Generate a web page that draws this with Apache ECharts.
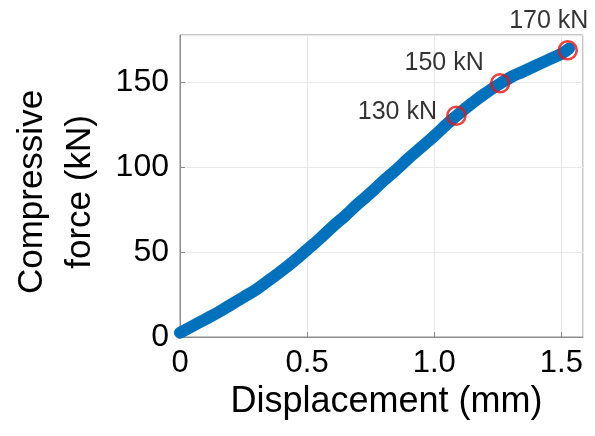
<!DOCTYPE html>
<html>
<head>
<meta charset="utf-8">
<script src="https://cdn.jsdelivr.net/npm/echarts@6/dist/echarts.min.js"></script>
<style>
  html, body { margin: 0; padding: 0; background: #fff; }
  #chart { width: 595px; height: 436px; }
</style>
</head>
<body>
<div id="chart"></div>
<script>
// displacement (mm) and compressive force (kN)
const displacement = [0, 0.05, 0.10, 0.15, 0.20, 0.25, 0.30, 0.35, 0.40, 0.45, 0.50, 0.55, 0.60, 0.65, 0.70, 0.75,
  0.80, 0.85, 0.90, 0.95, 1.00, 1.05, 1.10, 1.15, 1.20, 1.25, 1.30, 1.35, 1.40, 1.45, 1.50, 1.53]
const force = [2.5, 6.5, 10.5, 14.5, 19, 23.5, 28, 33.5, 39, 45, 51.5, 58, 65, 71.5, 78.5, 85,
  92, 98.5, 105.5, 112, 118.5, 125.5, 132, 138, 143.5, 148.5, 153, 156.5, 160, 163.5, 167, 170]

// highlighted load levels
const markDisp = [1.087, 1.259, 1.525]
const markForce = [130.4, 149.6, 169]
const markLabels = ['130 kN', '150 kN', '170 kN']

// label offsets for each marker (styling)
const labelOffsets = [[-59, 20], [-56, 3], [-19, -6]]

const font = 'Liberation Sans, Arial, sans-serif'
const chart = echarts.init(document.getElementById('chart'))

const isTick = (v, step) => Math.abs(v / step - Math.round(v / step)) < 1e-6

chart.setOption({
  animation: false,
  grid: {
    left: 176, right: 12, top: 35, bottom: 99,
    show: true, borderColor: '#8c8c8c', borderWidth: 1
  },
  xAxis: {
    type: 'value',
    min: 0, max: 1.585, interval: 0.5,
    name: 'Displacement (mm)',
    nameLocation: 'middle',
    nameGap: 47,
    nameTextStyle: { fontFamily: font, fontSize: 36, color: '#000', padding: [0, 0, 0, 10] },
    axisLine: { show: true, lineStyle: { color: '#8c8c8c' } },
    axisTick: { show: true, inside: true, length: 5, lineStyle: { color: '#8c8c8c' } },
    axisLabel: {
      fontFamily: font, fontSize: 31, color: '#000', margin: 11,
      showMaxLabel: false,
      formatter: v => isTick(v, 0.5) ? (v === 0 ? '0' : v.toFixed(1)) : ''
    },
    splitLine: { show: true, lineStyle: { color: '#e8e8e8' } }
  },
  yAxis: {
    type: 'value',
    min: 0, max: 178, interval: 50,
    name: 'Compressive\nforce (kN)',
    nameLocation: 'middle',
    nameRotate: 90,
    nameGap: 76,
    nameTextStyle: {
      fontFamily: font, fontSize: 35, color: '#000', lineHeight: 48, align: 'center',
      padding: [0, 12, 0, 0]
    },
    axisLine: { show: true, lineStyle: { color: '#8c8c8c' } },
    axisTick: { show: true, inside: true, length: 5, lineStyle: { color: '#8c8c8c' } },
    axisLabel: {
      fontFamily: font, fontSize: 32, color: '#000', margin: 11,
      showMaxLabel: false,
      formatter: v => isTick(v, 50) ? String(v) : ''
    },
    splitLine: { show: true, lineStyle: { color: '#e8e8e8' } }
  },
  series: [
    {
      type: 'line',
      data: displacement.map((d, i) => [d, force[i]]),
      smooth: true,
      showSymbol: false,
      lineStyle: { color: '#0072BD', width: 12, cap: 'round', join: 'round' },
      z: 2
    },
    {
      type: 'scatter',
      data: markDisp.map((d, i) => ({
        value: [d, markForce[i]],
        label: {
          show: true,
          formatter: markLabels[i],
          position: 'top',
          distance: 0,
          offset: labelOffsets[i]
        }
      })),
      symbol: 'circle',
      symbolSize: 18,
      itemStyle: { color: 'rgba(0,0,0,0)', borderColor: '#ee1111', borderWidth: 2.6 },
      label: { fontFamily: font, fontSize: 25, color: '#000', lineHeight: 26 },
      z: 3
    }
  ]
})
</script>
</body>
</html>
